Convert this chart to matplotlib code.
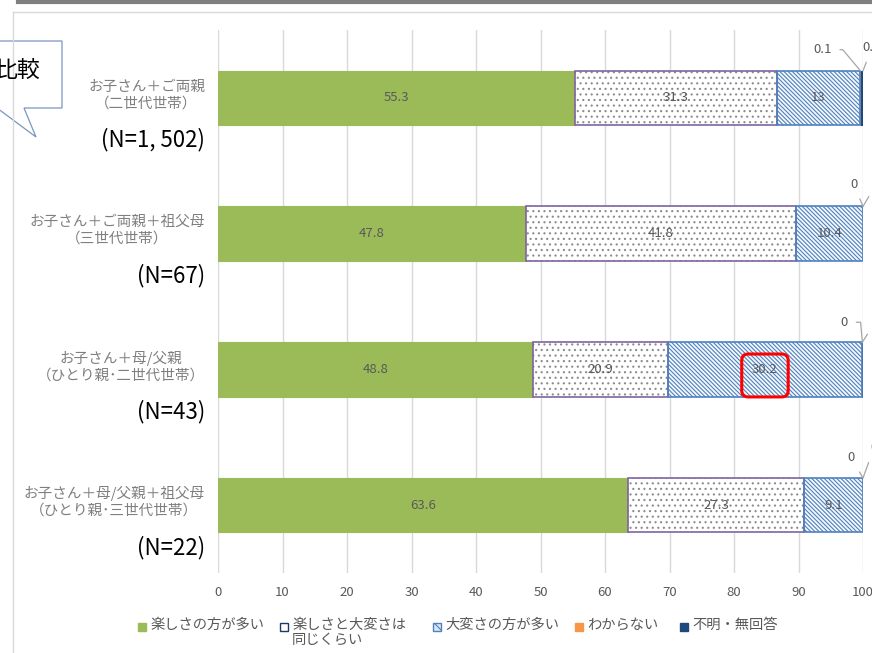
import matplotlib
matplotlib.use("Agg")
from matplotlib import pyplot as plt
from matplotlib.patches import Polygon, FancyBboxPatch, Rectangle
from matplotlib.lines import Line2D

plt.rcParams['font.family'] = ['Noto Sans CJK JP', 'DejaVu Sans']
plt.rcParams['hatch.linewidth'] = 0.8

W, H = 872, 653

categories = ["お子さん＋ご両親\n（二世代世帯）",
              "お子さん＋ご両親＋祖父母\n（三世代世帯）",
              "お子さん＋母/父親\n（ひとり親･二世代世帯）",
              "お子さん＋母/父親＋祖父母\n（ひとり親･三世代世帯）"]
n_labels = ["(N=1, 502)", "(N=67)", "(N=43)", "(N=22)"]
series_names = ["楽しさの方が多い", "楽しさと大変さは\n同じくらい", "大変さの方が多い",
                "わからない", "不明・無回答"]
fun_more = [55.3, 47.8, 48.8, 63.6]
same = [31.3, 41.8, 20.9, 27.3]
hard_more = [13, 10.4, 30.2, 9.1]
dont_know = [0.1, 0, 0, 0]
no_answer = [0.3, 0, 0, 0]
xticks = list(range(0, 101, 10))

series = [fun_more, same, hard_more, dont_know, no_answer]
faces = ["#9BBB59", "white", "#F4F8FC", "#F79646", "#1F497D"]
hatches = [None, "...", "\\\\\\\\\\\\\\\\", None, None]
hatch_cols = [None, "#8C8C8C", "#4F81BD", None, None]
borders = ["#9BBB59", "#8064A2", "#4F81BD", "#F79646", "#1F497D"]


def px(x, y):
    return (x / W, 1 - y / H)


fig = plt.figure(figsize=(W / 100, H / 100), dpi=100)
ax = fig.add_axes([218 / W, 1 - 573 / H, 645 / W, 543 / H])

ys = list(range(len(categories)))
left = [0] * len(categories)
for vals, fc, hc, hcol, bc in zip(series, faces, hatches, hatch_cols, borders):
    if hc:
        ax.barh(ys, vals, left=left, height=0.4, color=fc, hatch=hc,
                edgecolor=hcol, linewidth=0, zorder=2)
        ax.barh(ys, vals, left=left, height=0.4, fill=False,
                edgecolor=bc, linewidth=1.2, zorder=3)
    else:
        ax.barh(ys, vals, left=left, height=0.4, color=fc,
                edgecolor=bc, linewidth=0.8, zorder=2)
    left = [l + v for l, v in zip(left, vals)]

# labels inside the three large segments
starts = [0] * len(categories)
for vals in series[:3]:
    for i, v in enumerate(vals):
        ax.text(starts[i] + v / 2, i, f"{v:g}", ha='center', va='center',
                fontsize=9.5, color="#595959", zorder=4)
    starts = [s + v for s, v in zip(starts, vals)]

# small values with leader lines
ends1 = [a + b + c for a, b, c in zip(fun_more, same, hard_more)]
ends2 = [e + d + n for e, d, n in zip(ends1, dont_know, no_answer)]
offs_a = [(-38, 21), (-9, 22), (-18, 20), (-12, 20)]
offs_b = [(9, 23), (14, 24), (14, 22), (11, 30)]
conn_a = ["angle,angleA=0,angleB=130,rad=0", "arc3", "angle,angleA=0,angleB=95,rad=0",
          "arc3"]
for i in ys:
    for val, xe, (ox, oy), cs in ((dont_know[i], ends1[i], offs_a[i], conn_a[i]),
                                   (no_answer[i], ends2[i], offs_b[i], "arc3")):
        ax.annotate(f"{val:g}", xy=(xe, i - 0.2), xytext=(ox, oy),
                    textcoords='offset pixels', ha='center', va='center',
                    fontsize=9.5, color="#595959", annotation_clip=False,
                    arrowprops=dict(arrowstyle='-', color="#A6A6A6", lw=0.9,
                                    shrinkA=4, shrinkB=0, connectionstyle=cs))

ax.set_xlim(0, 100)
ax.set_ylim(3.5, -0.5)
ax.set_xticks(xticks)
ax.set_yticks([])
ax.grid(axis='x', color="#D9D9D9", lw=1, zorder=0)
ax.tick_params(axis='x', length=0, pad=9, labelsize=9.5, labelcolor="#595959")
for s in ax.spines.values():
    s.set_visible(False)

for i, (cat, nl) in enumerate(zip(categories, n_labels)):
    ax.annotate(cat, xy=(0, i), xytext=(-13, 3), textcoords='offset pixels',
                ha='right', va='center', multialignment='center',
                fontsize=10.5, color="#7F7F7F", linespacing=1.25,
                annotation_clip=False)
    ax.annotate(nl, xy=(0, i), xytext=(-13, -42), textcoords='offset pixels',
                ha='right', va='center', fontsize=16, color="black",
                annotation_clip=False)

# red box around 30.2
ax.add_patch(FancyBboxPatch((81.2, 1.887), 7.2, 0.316,
                            boxstyle='round,pad=0,rounding_size=1.0',
                            fc='none', ec='red', lw=2.2, zorder=5,
                            mutation_aspect=6.45 / 135.75))

# legend, laid out by hand like the Excel one
leg_x = [138, 280, 433, 575, 680]
leg_faces = ["#9BBB59", "white", "#DCE6F2", "#F79646", "#1F497D"]
leg_edges = ["#9BBB59", "#1F3864", "#4F81BD", "#F79646", "#1F497D"]
leg_hatch = [None, None, "\\\\\\", None, None]
for x0, name, fc, ec, hc in zip(leg_x, series_names, leg_faces, leg_edges, leg_hatch):
    fig.add_artist(Rectangle(px(x0, 631), 8 / W, 8 / H, transform=fig.transFigure,
                             fc=fc, ec=ec, lw=1, hatch=hc))
    fig.text((x0 + 12) / W, 1 - 618 / H, name, ha='left', va='top',
             fontsize=10.3, color="#595959", linespacing=1.05,
             transform=fig.transFigure)

# outer chart frame
fig.add_artist(Line2D([13 / W, 1], [1 - 12 / H] * 2, color="#D9D9D9", lw=1))
fig.add_artist(Line2D([13 / W] * 2, [0, 1 - 12 / H], color="#D9D9D9", lw=1))
fig.add_artist(Line2D([18 / W, 1], [1 - 1.5 / H] * 2, color="#7F7F7F", lw=3))

# callout
pts = [px(-60, 41), px(62, 41), px(62, 108), px(24, 108), px(36, 137),
       px(-3, 108), px(-60, 108)]
fig.add_artist(Polygon(pts, closed=True, transform=fig.transFigure,
                       fc='white', ec="#7A96C0", lw=0.9))
fig.text(40 / W, 1 - 70 / H, "比較", ha='right', va='center', fontsize=16.5,
         color="black")

fig.savefig("out.png", dpi=100)
